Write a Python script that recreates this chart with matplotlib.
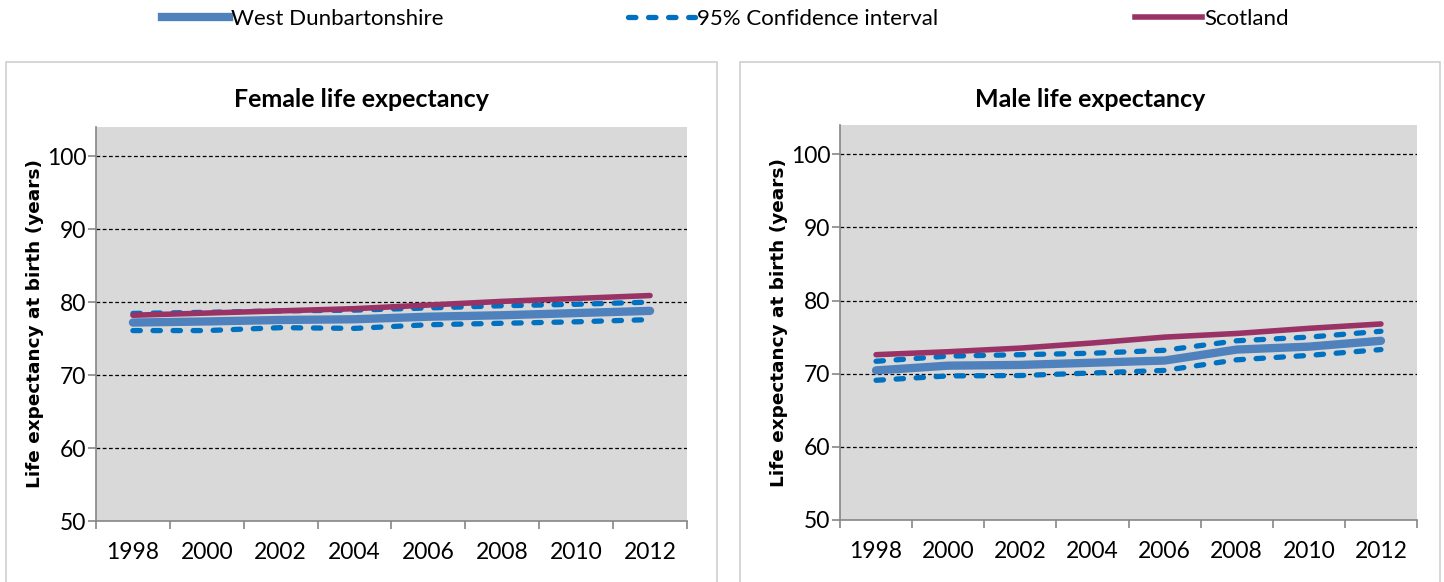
import matplotlib
matplotlib.use("Agg")
import matplotlib.pyplot as plt
from matplotlib.lines import Line2D
from matplotlib.patches import Rectangle

plt.rcParams['font.family'] = ['Lato', 'DejaVu Sans']

# data
years = ['1998', '2000', '2002', '2004', '2006', '2008', '2010', '2012']

fem_wd = [77.2, 77.35, 77.55, 77.65, 78.0, 78.2, 78.5, 78.8]
fem_lo = [76.1, 76.1, 76.5, 76.4, 76.9, 77.1, 77.3, 77.6]
fem_hi = [78.45, 78.6, 78.8, 78.9, 79.2, 79.5, 79.7, 80.0]
fem_sc = [78.2, 78.5, 78.8, 79.1, 79.6, 80.1, 80.5, 80.9]

male_wd = [70.45, 71.1, 71.2, 71.5, 71.8, 73.3, 73.7, 74.5]
male_lo = [69.1, 69.7, 69.75, 70.1, 70.45, 71.9, 72.5, 73.3]
male_hi = [71.7, 72.4, 72.6, 72.8, 73.2, 74.5, 75.0, 75.8]
male_sc = [72.6, 73.0, 73.5, 74.2, 75.0, 75.5, 76.2, 76.8]

WD_COL = '#4f81bd'
CI_COL = '#0070c0'
SC_COL = '#993366'

W, H = 1444, 582
fig = plt.figure(figsize=(W / 100, H / 100), dpi=100)

# panel frames
frames = [(6, 717), (740, 1440)]
for x0, x1 in frames:
    fig.add_artist(Rectangle((x0 / W, -0.02), (x1 - x0) / W, (582 - 62) / H + 0.02,
                             transform=fig.transFigure, fill=False,
                             edgecolor='#d0d0d0', lw=1.2))


def panel(rect, frame, title, wd, lo, hi, sc):
    ax = fig.add_axes(rect)
    ax.set_facecolor('#d9d9d9')
    x = list(range(len(years)))
    ax.plot(x, wd, color=WD_COL, lw=6.0, solid_capstyle='round', zorder=3)
    for s in (lo, hi):
        ax.plot(x, s, color=CI_COL, lw=3.8, dashes=(1.4, 2.4),
                dash_capstyle='round', zorder=4)
    ax.plot(x, sc, color=SC_COL, lw=4.0, solid_capstyle='round', zorder=5)

    ax.set_xlim(-0.5, len(years) - 0.5)
    ax.set_ylim(50, 104)
    ax.set_yticks([50, 60, 70, 80, 90, 100])
    for v in [60, 70, 80, 90, 100]:
        ax.axhline(v, color='black', lw=0.9, dashes=(3, 2), zorder=1)

    ax.set_xticks([i - 0.5 for i in range(len(years) + 1)])
    ax.set_xticklabels([])
    ax.set_xticks(x, minor=True)
    ax.set_xticklabels(years, minor=True)
    ax.tick_params(axis='x', which='minor', length=0, pad=15, labelsize=16.5)
    ax.tick_params(axis='x', which='major', length=6, color='#868686', width=1.2)
    ax.tick_params(axis='y', length=6, color='#868686', width=1.2, pad=1, labelsize=16.5)

    for side in ('top', 'right'):
        ax.spines[side].set_visible(False)
    for side in ('left', 'bottom'):
        ax.spines[side].set_color('#868686')
        ax.spines[side].set_linewidth(1.2)

    # title centred on the panel frame, not the plot area
    fig.text((frame[0] + frame[1]) / 2 / W, 1 - 99 / H, title, ha='center', va='center',
             fontsize=18, fontweight='bold')
    ax.set_ylabel('Life expectancy at birth (years)', family='DejaVu Sans',
                  fontsize=13.3, fontweight='bold', labelpad=2)
    return ax


panel([96 / W, 1 - 521 / H, (687 - 96) / W, (521 - 127) / H], frames[0],
      'Female life expectancy', fem_wd, fem_lo, fem_hi, fem_sc)
panel([840 / W, 1 - 520 / H, (1417 - 840) / W, (520 - 125) / H], frames[1],
      'Male life expectancy', male_wd, male_lo, male_hi, male_sc)

# legend across the top
entries = [
    (162, Line2D([], [], color=WD_COL, lw=6.0), 'West Dunbartonshire'),
    (628, Line2D([], [], color=CI_COL, lw=3.8, dashes=(1.4, 2.4), dash_capstyle='round'),
     '95% Confidence interval'),
    (1135, Line2D([], [], color=SC_COL, lw=4.0), 'Scotland'),
]
for xpos, h, lab in entries:
    fig.legend([h], [lab], loc='center left', bbox_to_anchor=(xpos / W, 1 - 19 / H),
               frameon=False, fontsize=16, handlelength=3.0, handletextpad=0.1,
               borderpad=0, borderaxespad=0)

fig.savefig('out.png', dpi=100)
